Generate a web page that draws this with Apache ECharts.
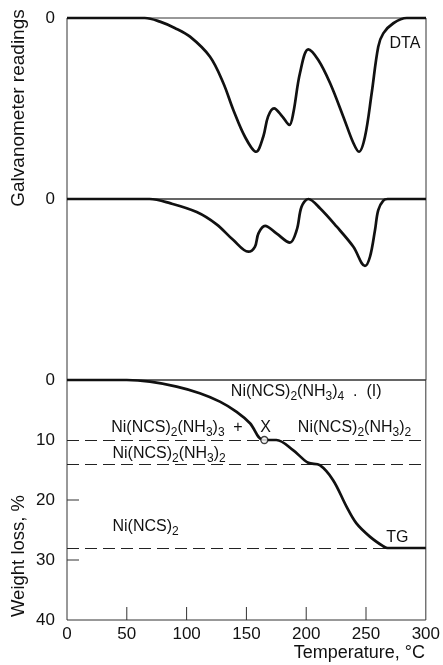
<!DOCTYPE html>
<html>
<head>
<meta charset="utf-8">
<script src="https://cdn.jsdelivr.net/npm/echarts@6/dist/echarts.min.js"></script>
<style>
html,body{margin:0;padding:0;background:#fff;}
#chart{width:443px;height:665px;}
</style>
</head>
<body>
<div id="chart"></div>
<script>
// ---- data ----
const xMin = 0, xMax = 300, xStep = 50;
const tgTicks = [0, 10, 20, 30, 40];
const xInnerTicks = [50, 100, 150, 200, 250];   // inward tick marks on temperature axis
const yInnerTicks = [20, 30];                    // inward tick marks on weight-loss axis

// DTA curve (arbitrary galvanometer units, panel depth 0 .. -100)
const dtaT = [0, 65, 77.7, 90, 102.8, 119.5, 130.6, 139, 148.7, 158, 164, 168, 173, 180, 185.8, 189.1, 194.7, 201.7, 210, 219.8, 230.9, 239.3, 244, 249, 254.6, 260.1, 264.3, 272.7, 284, 300];
const dtaV = [0, 0, -2.0, -5.5, -10.3, -21.4, -35.9, -50.8, -65.6, -73.9, -65.6, -54.5, -49.9, -54.5, -59.1, -52.5, -30.4, -17.3, -23.2, -35.9, -54.5, -69.1, -73.9, -65.6, -41.6, -15.9, -8.5, -2.9, 0, 0];

// DTG curve (arbitrary units, panel depth 0 .. -100)
const dtgT = [0, 69, 86, 108.4, 125, 139, 151.5, 157, 160, 165.5, 175, 186.3, 192, 196, 201.7, 211.4, 225.4, 239.3, 249, 253.2, 257.4, 260.1, 264.3, 268, 300];
const dtgV = [0, 0, -2.3, -7.2, -14.0, -22.7, -29.1, -26.4, -19.0, -14.9, -19.0, -24.1, -17.1, -4.3, 0, -5.1, -15.3, -26.4, -37.0, -31.9, -17.1, -6.1, -0.9, 0, 0];

// TG curve (weight loss, %)
const tgT = [0, 50, 69.4, 91.7, 111, 127.8, 141.8, 153, 164, 175, 189, 201.7, 211.4, 222.5, 233.7, 242, 253.2, 264.3, 268, 300];
const tgV = [0, 0, 0.28, 1.1, 2.2, 3.6, 5.3, 7.2, 10, 10, 11.7, 13.8, 14.2, 16.7, 21.1, 23.9, 26.1, 27.7, 28, 28];

// stoichiometric weight-loss levels (dashed lines)
const stageLevels = [10, 14, 28];

// point X on TG curve
const pointX = [[165, 10]];

// ---- chart ----
const FONT = 'Liberation Sans';
const BLACK = '#111';
const zip = (a, b) => a.map((v, i) => [v, b[i]]);

const chart = echarts.init(document.getElementById('chart'));

const rich = {
  s: { fontSize: 12, fontFamily: FONT, color: BLACK, padding: [10, 0, 0, 0], lineHeight: 12 }
};
function chemLabel(text, T, v, pos) {
  return {
    coord: [T, v],
    symbol: 'circle', symbolSize: 0,
    label: {
      show: true, position: pos || 'right', distance: 0,
      formatter: text, fontSize: 16, fontFamily: FONT, color: BLACK, lineHeight: 19, rich: rich
    }
  };
}

const gridCommon = { left: 67, right: 17, show: true, borderColor: '#333', borderWidth: 1, backgroundColor: 'transparent' };

// tick marks drawn inward through the axis scales
const tickData = xInnerTicks.map(t => [t, tgTicks[tgTicks.length - 1], 0])
  .concat(yInnerTicks.map(v => [xMin, v, 1]));

const option = {
  animation: false,
  backgroundColor: '#fff',
  grid: [
    Object.assign({ top: 18, height: 181 }, gridCommon),
    Object.assign({ top: 199, height: 181 }, gridCommon),
    Object.assign({ top: 380, height: 240 }, gridCommon)
  ],
  xAxis: [0, 1, 2].map(i => ({
    type: 'value', gridIndex: i, min: xMin, max: xMax, interval: xStep,
    axisLine: { show: false, onZero: false },
    splitLine: { show: false },
    axisTick: { show: false },
    axisLabel: { show: i === 2, margin: 6, fontSize: 17, fontFamily: FONT, color: BLACK }
  })),
  yAxis: [
    {
      type: 'value', gridIndex: 0, min: -100, max: 0, interval: 100,
      axisLine: { show: false, onZero: false }, axisTick: { show: false }, splitLine: { show: false },
      axisLabel: { margin: 12, fontSize: 17, fontFamily: FONT, color: BLACK, formatter: v => v === 0 ? '0' : '' }
    },
    {
      type: 'value', gridIndex: 1, min: -100, max: 0, interval: 100,
      axisLine: { show: false, onZero: false }, axisTick: { show: false }, splitLine: { show: false },
      axisLabel: { margin: 12, fontSize: 17, fontFamily: FONT, color: BLACK, formatter: v => v === 0 ? '0' : '' }
    },
    {
      type: 'value', gridIndex: 2, min: tgTicks[0], max: tgTicks[tgTicks.length - 1], interval: 10, inverse: true,
      axisLine: { show: false, onZero: false },
      splitLine: { show: false },
      axisTick: { show: false },
      axisLabel: { margin: 12, fontSize: 17, fontFamily: FONT, color: BLACK }
    }
  ],
  series: [
    {
      type: 'line', xAxisIndex: 0, yAxisIndex: 0, data: zip(dtaT, dtaV),
      smooth: 0.35, symbol: 'none', clip: false,
      lineStyle: { color: BLACK, width: 2.7 },
      markPoint: { data: [chemLabel('DTA', 269.5, -14)], silent: true }
    },
    {
      type: 'line', xAxisIndex: 1, yAxisIndex: 1, data: zip(dtgT, dtgV),
      smooth: 0.35, symbol: 'none', clip: false,
      lineStyle: { color: BLACK, width: 2.7 },
      markPoint: { data: [chemLabel('DTG', 268.5, 6)], silent: true }
    },
    {
      type: 'line', xAxisIndex: 2, yAxisIndex: 2, data: zip(tgT, tgV),
      smooth: 0.35, symbol: 'none', clip: false, z: 5,
      lineStyle: { color: BLACK, width: 2.7 },
      markLine: {
        silent: true, symbol: 'none', label: { show: false },
        lineStyle: { color: '#222', width: 1, type: [12, 6] },
        data: stageLevels.map(v => ({ yAxis: v }))
      },
      markPoint: {
        silent: true,
        data: [
          chemLabel('Ni(NCS){s|2}(NH{s|3}){s|4}  .  (I)', 137, 2.0),
          chemLabel('Ni(NCS){s|2}(NH{s|3}){s|3}', 37, 7.9),
          chemLabel('+', 143, 7.9, 'inside'),
          chemLabel('X', 166, 7.9, 'inside'),
          chemLabel('Ni(NCS){s|2}(NH{s|3}){s|2}', 193, 7.9),
          chemLabel('Ni(NCS){s|2}(NH{s|3}){s|2}', 38, 12.3),
          chemLabel('Ni(NCS){s|2}', 38, 24.5),
          chemLabel('TG', 267, 26.2)
        ]
      }
    },
    {
      type: 'scatter', xAxisIndex: 2, yAxisIndex: 2, data: pointX, z: 6,
      symbol: 'circle', symbolSize: 7,
      itemStyle: { color: '#fff', borderColor: BLACK, borderWidth: 1.3 }
    },
    {
      type: 'custom', xAxisIndex: 2, yAxisIndex: 2, data: tickData, z: 3, silent: true,
      renderItem: function (params, api) {
        const p = api.coord([api.value(0), api.value(1)]);
        const vertical = api.value(2) === 0;
        return {
          type: 'line',
          shape: vertical
            ? { x1: p[0], y1: p[1], x2: p[0], y2: p[1] - 13 }
            : { x1: p[0], y1: p[1], x2: p[0] + 12, y2: p[1] },
          style: { stroke: '#333', lineWidth: 1 }
        };
      }
    }
  ],
  graphic: [
    {
      type: 'text', x: 19, y: 108, rotation: Math.PI / 2,
      style: { text: 'Galvanometer readings', fontSize: 19, fontFamily: FONT, fill: BLACK, align: 'center', verticalAlign: 'middle' }
    },
    {
      type: 'text', x: 19, y: 556, rotation: Math.PI / 2,
      style: { text: 'Weight loss, %', fontSize: 18.5, fontFamily: FONT, fill: BLACK, align: 'center', verticalAlign: 'middle' }
    },
    {
      type: 'text', x: 425, y: 653,
      style: { text: 'Temperature, °C', fontSize: 18, fontFamily: FONT, fill: BLACK, align: 'right', verticalAlign: 'middle' }
    }
  ]
};
chart.setOption(option);
</script>
</body>
</html>
